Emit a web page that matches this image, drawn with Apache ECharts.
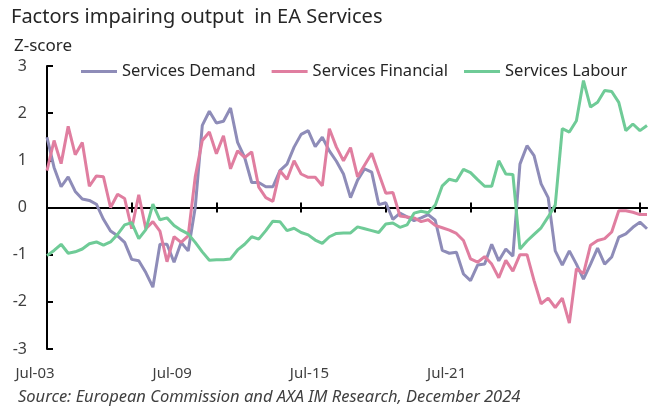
<!DOCTYPE html>
<html>
<head>
<meta charset="utf-8">
<script src="https://cdn.jsdelivr.net/npm/echarts@6/dist/echarts.min.js"></script>
<style>
html,body{margin:0;padding:0;background:#fff;}
#chart{width:649px;height:407px;}
</style>
</head>
<body>
<div id="chart"></div>
<script>
// Quarterly categories, Q3 2003 - Q4 2024
const categories = [
 'Jul-03','Oct-03',
 'Jan-04','Apr-04','Jul-04','Oct-04','Jan-05','Apr-05','Jul-05','Oct-05',
 'Jan-06','Apr-06','Jul-06','Oct-06','Jan-07','Apr-07','Jul-07','Oct-07',
 'Jan-08','Apr-08','Jul-08','Oct-08','Jan-09','Apr-09','Jul-09','Oct-09',
 'Jan-10','Apr-10','Jul-10','Oct-10','Jan-11','Apr-11','Jul-11','Oct-11',
 'Jan-12','Apr-12','Jul-12','Oct-12','Jan-13','Apr-13','Jul-13','Oct-13',
 'Jan-14','Apr-14','Jul-14','Oct-14','Jan-15','Apr-15','Jul-15','Oct-15',
 'Jan-16','Apr-16','Jul-16','Oct-16','Jan-17','Apr-17','Jul-17','Oct-17',
 'Jan-18','Apr-18','Jul-18','Oct-18','Jan-19','Apr-19','Jul-19','Oct-19',
 'Jan-20','Apr-20','Jul-20','Oct-20','Jan-21','Apr-21','Jul-21','Oct-21',
 'Jan-22','Apr-22','Jul-22','Oct-22','Jan-23','Apr-23','Jul-23','Oct-23',
 'Jan-24','Apr-24','Jul-24','Oct-24'
];
const xTickLabels = ['Jul-03','Jul-09','Jul-15','Jul-21'];
const yTickValues = [-3,-2,-1,0,1,2,3];

const servicesDemand = [
 1.49,0.85,0.44,0.65,0.34,0.18,0.15,0.07,-0.25,-0.50,
 -0.60,-0.74,-1.10,-1.13,-1.38,-1.69,-0.78,-0.78,-1.16,-0.74,
 -0.92,0.00,1.74,2.04,1.79,1.83,2.11,1.38,1.06,0.53,
 0.53,0.44,0.44,0.78,0.92,1.28,1.55,1.63,1.29,1.49,
 1.20,0.98,0.71,0.21,0.58,0.82,0.75,0.06,0.10,-0.25,
 -0.12,-0.20,-0.28,-0.22,-0.15,-0.27,-0.91,-0.97,-0.95,-1.41,
 -1.55,-1.22,-1.20,-0.78,-1.13,-0.88,-1.03,0.92,1.31,1.10,
 0.50,0.21,-0.92,-1.22,-0.92,-1.20,-1.52,-1.20,-0.86,-1.20,
 -1.05,-0.63,-0.56,-0.42,-0.31,-0.45
];
const servicesFinancial = [
 0.78,1.42,0.93,1.72,1.12,1.38,0.45,0.67,0.65,0.00,
 0.28,0.19,-0.45,0.27,-0.45,-0.30,-0.50,-1.15,-0.62,-0.74,
 -0.60,0.65,1.42,1.60,1.14,1.52,0.82,1.20,1.06,1.18,
 0.43,0.21,0.13,0.78,0.60,0.99,0.71,0.64,0.64,0.46,
 1.67,1.28,0.99,1.27,0.65,0.90,1.15,0.72,0.30,0.32,
 -0.18,-0.20,-0.22,-0.30,-0.26,-0.38,-0.43,-0.48,-0.55,-0.70,
 -1.09,-1.16,-1.04,-1.20,-1.49,-1.12,-1.35,-1.00,-1.00,-1.55,
 -2.04,-1.92,-2.12,-1.92,-2.45,-1.30,-1.40,-0.80,-0.70,-0.66,
 -0.52,-0.07,-0.07,-0.10,-0.15,-0.15
];
const servicesLabour = [
 -1.02,-0.91,-0.78,-0.97,-0.94,-0.88,-0.77,-0.73,-0.80,-0.73,
 -0.57,-0.37,-0.32,-0.66,-0.47,0.07,-0.26,-0.22,-0.38,-0.48,
 -0.56,-0.74,-0.94,-1.12,-1.11,-1.11,-1.09,-0.90,-0.78,-0.62,
 -0.67,-0.49,-0.29,-0.30,-0.49,-0.44,-0.53,-0.58,-0.69,-0.76,
 -0.62,-0.55,-0.54,-0.54,-0.41,-0.45,-0.49,-0.53,-0.35,-0.33,
 -0.42,-0.37,-0.12,-0.08,-0.11,0.05,0.46,0.60,0.56,0.81,
 0.74,0.59,0.45,0.45,0.99,0.71,0.70,-0.88,-0.71,-0.57,
 -0.43,-0.20,0.05,1.67,1.60,1.84,2.69,2.13,2.23,2.48,
 2.46,2.23,1.63,1.77,1.63,1.74
];

const FONT = '"Noto Sans", sans-serif';
const chart = echarts.init(document.getElementById('chart'), null, {renderer:'canvas'});
const mkSeries = (name, data, color) => ({
  name, type:'line', data, xAxisIndex:0, yAxisIndex:0,
  symbol:'none', smooth:false,
  lineStyle:{color, width:3}, itemStyle:{color},
  emphasis:{disabled:true}
});
chart.setOption({
  animation:false,
  title:[
    {text:'Factors impairing output  in EA Services', left:6, top:2,
     textStyle:{fontFamily:FONT, fontSize:20, fontWeight:'normal', color:'#262626'}},
    {text:'Z-score', left:9, top:33,
     textStyle:{fontFamily:FONT, fontSize:17, fontWeight:'normal', color:'#262626'}},
    {text:'Source: European Commission and AXA IM Research, December 2024', left:13, top:384,
     textStyle:{fontFamily:FONT, fontSize:16.5, fontStyle:'italic', fontWeight:'normal', color:'#404040'}}
  ],
  legend:{
    show:true, orient:'horizontal', icon:'rect',
    left:76, top:58, itemWidth:36, itemHeight:3, itemGap:16,
    textStyle:{fontFamily:FONT, fontSize:16.5, color:'#262626'},
    data:['Services Demand','Services Financial','Services Labour']
  },
  grid:[
    {left:47, right:2, top:66, bottom:58, containLabel:false},
    {left:35, width:486, top:66, bottom:58, containLabel:false}
  ],
  xAxis:[
    {type:'category', gridIndex:0, data:categories, boundaryGap:false, position:'bottom',
     axisLine:{onZero:true, onZeroAxisIndex:0, lineStyle:{color:'#000', width:2}},
     axisTick:{show:true, inside:true, interval:11, length:5, lineStyle:{color:'#000', width:2}},
     axisLabel:{show:false}, splitLine:{show:false}},
    {type:'category', gridIndex:0, data:categories, boundaryGap:false, position:'bottom',
     axisLine:{onZero:true, onZeroAxisIndex:0, lineStyle:{color:'#000', width:2}},
     axisTick:{show:true, inside:false, interval:11, length:5, lineStyle:{color:'#000', width:2}},
     axisLabel:{show:false}, splitLine:{show:false}},
    {type:'category', gridIndex:1, data:categories, boundaryGap:false, position:'bottom',
     axisLine:{show:false, onZero:false}, axisTick:{show:false},
     axisLabel:{show:true, margin:17, color:'#404040', fontFamily:FONT, fontSize:15,
       interval:(idx, val) => xTickLabels.indexOf(val) >= 0},
     splitLine:{show:false}}
  ],
  yAxis:[
    {type:'value', gridIndex:0, min:-3, max:3, interval:1,
     axisLine:{show:true, lineStyle:{color:'#000', width:2}},
     axisTick:{show:true, inside:true, length:6, lineStyle:{color:'#000', width:2}},
     axisLabel:{margin:20, color:'#404040', fontFamily:FONT, fontSize:16,
       formatter:(v) => yTickValues.indexOf(v) >= 0 ? String(v) : ''},
     splitLine:{show:false}},
    {type:'value', gridIndex:1, min:-3, max:3, show:false}
  ],
  series:[
    mkSeries('Services Demand', servicesDemand, '#8E8CB8'),
    mkSeries('Services Financial', servicesFinancial, '#E07EA0'),
    mkSeries('Services Labour', servicesLabour, '#6FCB97')
  ]
});
</script>
</body>
</html>
